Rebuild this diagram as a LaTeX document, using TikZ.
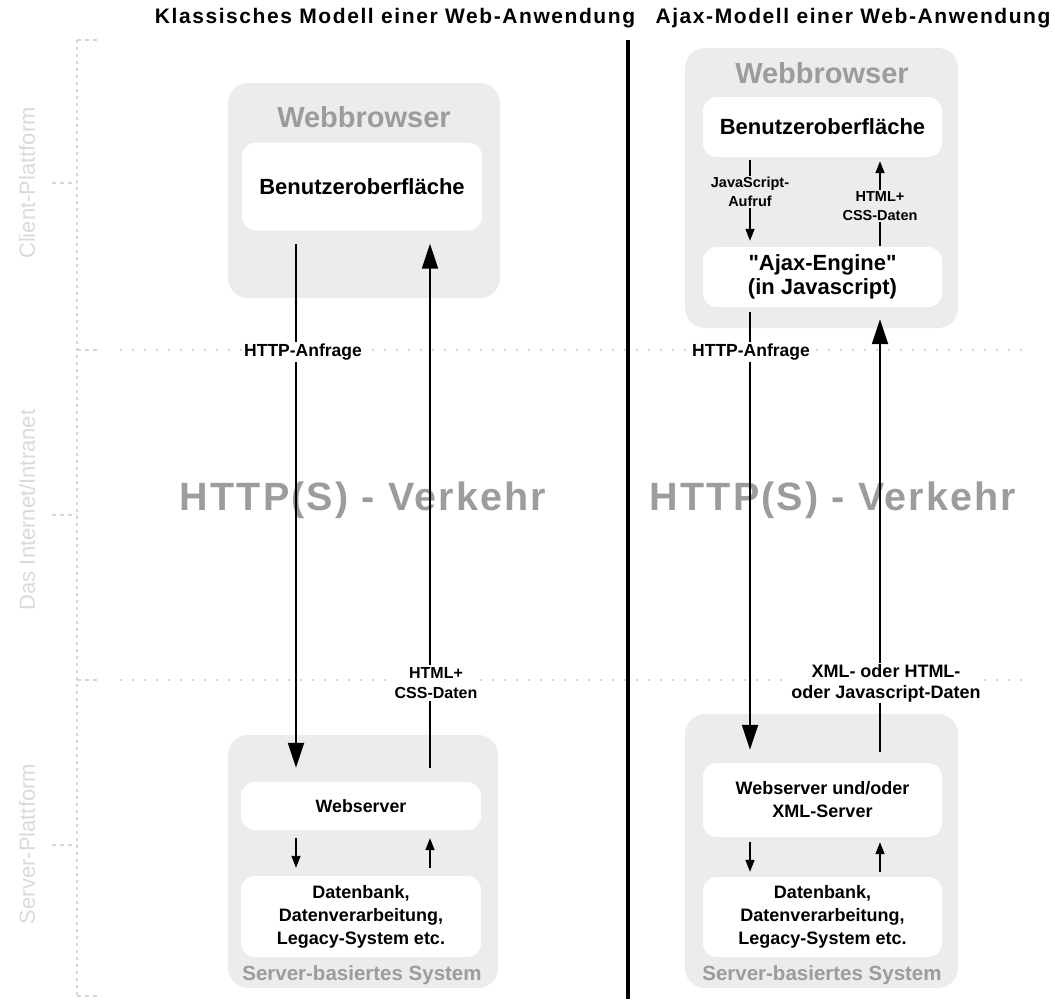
\documentclass[tikz,border=0pt]{standalone}
\usepackage{fontspec}
\setmainfont{Liberation Sans}[Ligatures=TeXOff]
\usetikzlibrary{arrows.meta}
\definecolor{boxgray}{HTML}{ECECEC}
\definecolor{txtgray}{HTML}{9C9C9C}
\definecolor{axisgray}{HTML}{D6D6D6}
\definecolor{axistxt}{HTML}{DADADA}
\tikzset{
  outerbox/.style={fill=boxgray, draw=none, rounded corners=20pt, inner sep=0pt},
  innerbox/.style={fill=white, draw=none, rounded corners=14pt, inner sep=0pt, align=center, font=\fontsize{18}{23}\selectfont\bfseries},
  titletxt/.style={font=\fontsize{21}{25}\selectfont\bfseries\addfontfeatures{LetterSpace=7.5}, inner sep=0pt},
  boxtitle/.style={text=txtgray, font=\fontsize{29}{33}\selectfont\bfseries, inner sep=0pt},
  systxt/.style={text=txtgray, font=\fontsize{20.5}{24}\selectfont\bfseries, inner sep=0pt},
  traffic/.style={text=txtgray, font=\fontsize{39.5}{44}\selectfont\bfseries\addfontfeatures{LetterSpace=5.5}, inner sep=0pt},
  axislabel/.style={text=axistxt, font=\fontsize{22}{26}\selectfont, rotate=90, inner sep=0pt},
  biglabel/.style={fill=white, align=center, font=\fontsize{16}{20}\selectfont\bfseries, inner sep=2pt},
  smalllabel/.style={fill=boxgray, align=center, font=\fontsize{14.5}{19}\selectfont\bfseries, inner sep=1.5pt},
  bigarrow/.style={line width=2.2pt, -{Triangle[length=25pt,width=16pt]}},
  smallarrow/.style={line width=1.5pt, -{Triangle[length=12pt,width=9pt]}},
  vaxis/.style={draw=axisgray, line width=1.5pt, dash pattern=on 3pt off 4pt},
  haxis/.style={draw=axisgray, line width=1.8pt, dash pattern=on 1.5pt off 10.5pt},
  tick/.style={draw=axisgray, line width=1.5pt, dash pattern=on 4pt off 4pt},
}
\begin{document}
\begin{tikzpicture}[x=1pt,y=-1pt]
\useasboundingbox (0,0) rectangle (1055,999);

% titles
\node[titletxt] (t1) at (395,18) {Klassisches Modell einer Web-Anwendung};
\node[titletxt] (t2) at (853,18) {Ajax-Modell einer Web-Anwendung};

% axis
\coordinate (axTop) at (77,40);
\coordinate (axBot) at (77,996);
\draw[vaxis] (axTop) -- (axBot);
\draw[tick] (axTop) -- (101,40);
\draw[tick] (axBot) -- (101,996);
\draw[tick] (52,183) -- (axTop |- 0,183);
\draw[tick] (52,515) -- (axTop |- 0,515);
\draw[tick] (52,845) -- (axTop |- 0,845);
\draw[tick] (77,350) -- (101,350);
\draw[tick] (77,680) -- (101,680);
\draw[haxis] (120,350) -- (1022,350);
\draw[haxis] (120,680) -- (1022,680);
\node[axislabel] (ax1) at (27,183) {Client-Plattform};
\node[axislabel] (ax2) at (27,510) {Das Internet/Intranet};
\node[axislabel] (ax3) at (27,844) {Server-Plattform};

% divider
\draw[line width=4pt] (628,40) -- (628,999);

% x positions of arrows
\coordinate (xLa) at (296,0);
\coordinate (xLb) at (430,0);
\coordinate (xRa) at (750,0);
\coordinate (xRb) at (880,0);

% ---------- left: classic model
\node[outerbox, minimum width=272pt, minimum height=215pt] (wbL) at (364,190.5) {};
\node[boxtitle] (wbLt) at (364,117) {Webbrowser};
\node[innerbox, minimum width=240pt, minimum height=88pt, font=\fontsize{22}{26}\selectfont\bfseries] (buL) at (362,186.5) {Benutzeroberfläche};

\node[outerbox, minimum width=270pt, minimum height=253pt] (svL) at (363,861.5) {};
\node[innerbox, minimum width=240pt, minimum height=48pt, font=\fontsize{17.8}{21}\selectfont\bfseries] (wsL) at (361,806) {Webserver};
\node[innerbox, minimum width=240pt, minimum height=81pt] (dbL) at (361,916.5) {Datenbank,\\Datenverarbeitung,\\Legacy-System etc.};
\node[systxt] (svLt) at (362,975) {Server-basiertes System};

\node[traffic] (trL) at (363,500) {HTTP(S) - Verkehr};

\draw[bigarrow, shorten <=13pt, shorten >=14pt] (buL.south -| xLa) -- (wsL.north -| xLa);
\draw[bigarrow, shorten <=14pt, shorten >=13pt] (wsL.north -| xLb) -- (buL.south -| xLb);
\draw[smallarrow, shorten <=8pt, shorten >=8pt] (wsL.south -| xLa) -- (dbL.north -| xLa);
\draw[smallarrow, shorten <=8pt, shorten >=8pt] (dbL.north -| xLb) -- (wsL.south -| xLb);

\node[biglabel, font=\fontsize{17.5}{20}\selectfont\bfseries] (lbL1) at (303,352) {HTTP-Anfrage};
\node[biglabel] (lbL2) at (436,683) {HTML+\\CSS-Daten};

% ---------- right: Ajax model
\node[outerbox, minimum width=273pt, minimum height=280pt] (wbR) at (821.5,188) {};
\node[boxtitle] (wbRt) at (822,73) {Webbrowser};
\node[innerbox, minimum width=239pt, minimum height=60pt, font=\fontsize{22}{26}\selectfont\bfseries] (buR) at (822.5,127) {Benutzeroberfläche};
\node[innerbox, minimum width=239pt, minimum height=60pt, font=\fontsize{22}{24}\selectfont\bfseries] (ajR) at (822.5,277) {"Ajax-Engine"\\(in Javascript)};

\node[outerbox, minimum width=273pt, minimum height=274pt] (svR) at (821.5,851) {};
\node[innerbox, minimum width=239pt, minimum height=74pt] (wsR) at (822.5,800) {Webserver und/oder\\XML-Server};
\node[innerbox, minimum width=239pt, minimum height=80pt] (dbR) at (822.5,917) {Datenbank,\\Datenverarbeitung,\\Legacy-System etc.};
\node[systxt] (svRt) at (822,975) {Server-basiertes System};

\node[traffic] (trR) at (833,500) {HTTP(S) - Verkehr};

\draw[smallarrow, shorten <=3pt, shorten >=6pt] (buR.south -| xRa) -- (ajR.north -| xRa);
\draw[smallarrow, shorten <=1pt, shorten >=4pt] (ajR.north -| xRb) -- (buR.south -| xRb);
\node[smalllabel] (lbR1) at (750,192) {JavaScript-\\Aufruf};
\node[smalllabel] (lbR2) at (880,206) {HTML+\\CSS-Daten};

\draw[bigarrow, shorten <=5pt, shorten >=13pt] (ajR.south -| xRa) -- (wsR.north -| xRa);
\draw[bigarrow, shorten <=11pt, shorten >=12pt] (wsR.north -| xRb) -- (ajR.south -| xRb);
\draw[smallarrow, shorten <=5pt, shorten >=5pt] (wsR.south -| xRa) -- (dbR.north -| xRa);
\draw[smallarrow, shorten <=5pt, shorten >=5pt] (dbR.north -| xRb) -- (wsR.south -| xRb);

\node[biglabel, font=\fontsize{17.5}{20}\selectfont\bfseries] (lbR3) at (751,352) {HTTP-Anfrage};
\node[biglabel, inner sep=1pt, font=\fontsize{18}{21}\selectfont\bfseries] (lbR4) at (886,683) {XML- oder HTML-\\oder Javascript-Daten};
\end{tikzpicture}
\end{document}
